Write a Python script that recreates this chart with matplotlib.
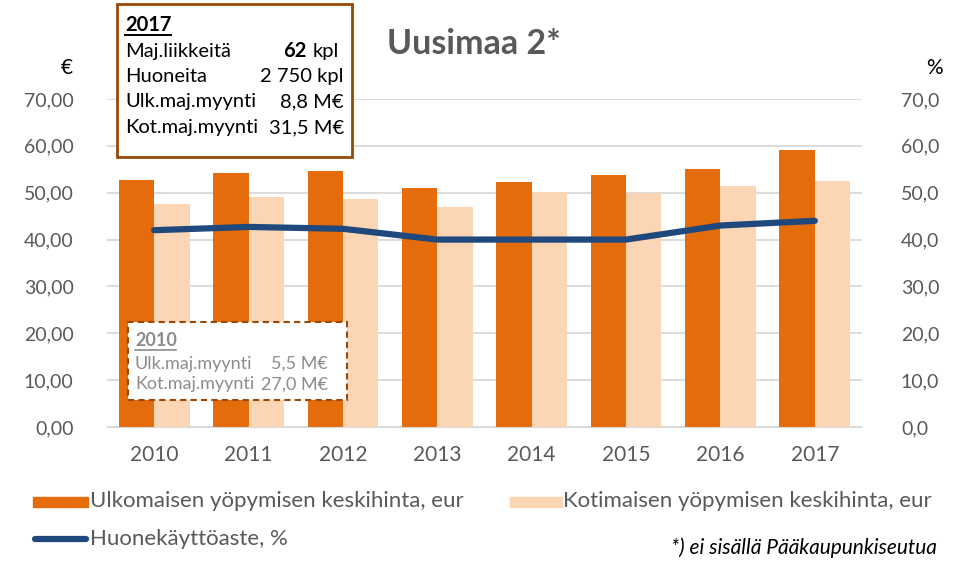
import matplotlib.pyplot as plt
from matplotlib.patches import Rectangle
from matplotlib.lines import Line2D
import numpy as np

plt.rcParams["font.family"] = ["Lato", "DejaVu Sans"]

years = ["2010", "2011", "2012", "2013", "2014", "2015", "2016", "2017"]
ulko_hinta = [52.7, 54.2, 54.6, 51.0, 52.3, 53.8, 55.1, 59.1]
koti_hinta = [47.5, 49.1, 48.6, 46.9, 50.2, 49.9, 51.5, 52.6]
kayttoaste = [42, 42.7, 42.3, 40, 40, 40, 43, 44]

ORANGE = "#E46C0A"
LIGHT = "#FCD5B5"
BLUE = "#1F497D"
GRAY = "#595959"
BROWN = "#984807"

W, H = 957, 574
fig = plt.figure(figsize=(W / 100, H / 100), dpi=100)


def fx(x):
    return x / W


def fy(y):
    return 1 - y / H


ax = fig.add_axes([fx(107), fy(427), fx(862) - fx(107), fy(99) - fy(427)])
ax2 = ax.twinx()

x = np.arange(len(years))
bw = 0.375
ax.bar(x - bw / 2, ulko_hinta, bw, color=ORANGE, zorder=2)
ax.bar(x + bw / 2, koti_hinta, bw, color=LIGHT, zorder=2)
ax2.plot(x, kayttoaste, color=BLUE, lw=4.5, solid_capstyle="round")

ax.set_xlim(-0.5, len(years) - 0.5)
ax.set_ylim(0, 70)
ax2.set_ylim(0, 70)
ticks = np.arange(0, 71, 10)
ax.set_yticks(ticks)
ax.set_yticklabels([f"{t:.2f}".replace(".", ",") for t in ticks])
ax2.set_yticks(ticks)
ax2.set_yticklabels([f"{t:.1f}".replace(".", ",") for t in ticks])
ax.set_xticks(x)
ax.set_xticklabels(years)

ax.grid(axis="y", color="#D9D9D9", lw=1.3, zorder=0)
ax.set_axisbelow(True)
for a in (ax, ax2):
    for s in a.spines.values():
        s.set_visible(False)
    a.tick_params(length=0, labelsize=14, labelcolor=GRAY)
ax.spines["bottom"].set_visible(True)
ax.spines["bottom"].set_color("#D9D9D9")
ax.tick_params(axis="y", pad=24)
ax.tick_params(axis="x", pad=13, labelsize=15)
ax2.tick_params(axis="y", pad=28)

# otsikko ja yksiköt
fig.text(fx(474), fy(44), "Uusimaa 2*", ha="center", va="center",
         fontsize=24.5, fontweight="bold", color=GRAY)
fig.text(fx(67), fy(68), "€", ha="center", va="center", fontsize=15, color="black")
fig.text(fx(934), fy(68), "%", ha="center", va="center", fontsize=15, color="black")

# 2017 laatikko
FS17 = 14.5
fig.patches.append(Rectangle((fx(117), fy(157)), fx(352) - fx(117), fy(4) - fy(157),
                             transform=fig.transFigure, facecolor="white",
                             edgecolor=BROWN, lw=2, zorder=5))
fig.text(fx(125), fy(25), "2017", fontsize=FS17, fontweight="bold", va="center", zorder=6)
fig.lines.append(Line2D([fx(125), fx(171)], [fy(35), fy(35)], transform=fig.transFigure,
                        color="black", lw=1.4, zorder=6))
rows17 = [("Maj.liikkeitä", None), ("Huoneita", "2 750 kpl"),
          ("Ulk.maj.myynti", "8,8 M€"), ("Kot.maj.myynti", "31,5 M€")]
for i, (lab, val) in enumerate(rows17):
    yy = fy(51 + i * 25.5)
    fig.text(fx(125), yy, lab, fontsize=FS17, va="center", zorder=6)
    if val is not None:
        fig.text(fx(344), yy, val, fontsize=FS17, va="center", ha="right", zorder=6)
fig.text(fx(339), fy(51), "kpl", fontsize=FS17, va="center", ha="right", zorder=6)
fig.text(fx(306), fy(51), "62", fontsize=FS17, va="center", ha="right",
         fontweight="bold", zorder=6)

# 2010 laatikko
FS10 = 13
fig.patches.append(Rectangle((fx(128), fy(400)), fx(347) - fx(128), fy(322) - fy(400),
                             transform=fig.transFigure, facecolor="white",
                             edgecolor=BROWN, lw=1.5, ls=(0, (3, 2)), zorder=5))
G2 = "#8C8C8C"
fig.text(fx(135), fy(341), "2010", fontsize=FS10, fontweight="bold", va="center",
         color=G2, zorder=6)
fig.lines.append(Line2D([fx(135), fx(176)], [fy(350), fy(350)], transform=fig.transFigure,
                        color=G2, lw=1.2, zorder=6))
rows10 = [("Ulk.maj.myynti", "5,5 M€"), ("Kot.maj.myynti", "27,0 M€")]
for i, (lab, val) in enumerate(rows10):
    yy = fy(364 + i * 20.5)
    fig.text(fx(135), yy, lab, fontsize=FS10, va="center", color=G2, zorder=6)
    fig.text(fx(328), yy, val, fontsize=FS10, va="center", ha="right", color=G2, zorder=6)

# selite
fig.patches.append(Rectangle((fx(33), fy(507)), fx(88) - fx(33), 10 / H,
                             transform=fig.transFigure, color=ORANGE))
fig.text(fx(90), fy(501), "Ulkomaisen yöpymisen keskihinta, eur", fontsize=16,
         va="center", color=GRAY)
fig.patches.append(Rectangle((fx(510), fy(507)), fx(562) - fx(510), 10 / H,
                             transform=fig.transFigure, color=LIGHT))
fig.text(fx(563), fy(501), "Kotimaisen yöpymisen keskihinta, eur", fontsize=16,
         va="center", color=GRAY)
fig.lines.append(Line2D([fx(35), fx(86)], [fy(539), fy(539)], transform=fig.transFigure,
                        color=BLUE, lw=4.5, solid_capstyle="round"))
fig.text(fx(90), fy(539), "Huonekäyttöaste, %", fontsize=16, va="center", color=GRAY)
fig.text(fx(937), fy(548), "*) ei sisällä Pääkaupunkiseutua", fontsize=15,
         va="center", ha="right", style="italic", color="black")

fig.savefig("out.png", dpi=100)
